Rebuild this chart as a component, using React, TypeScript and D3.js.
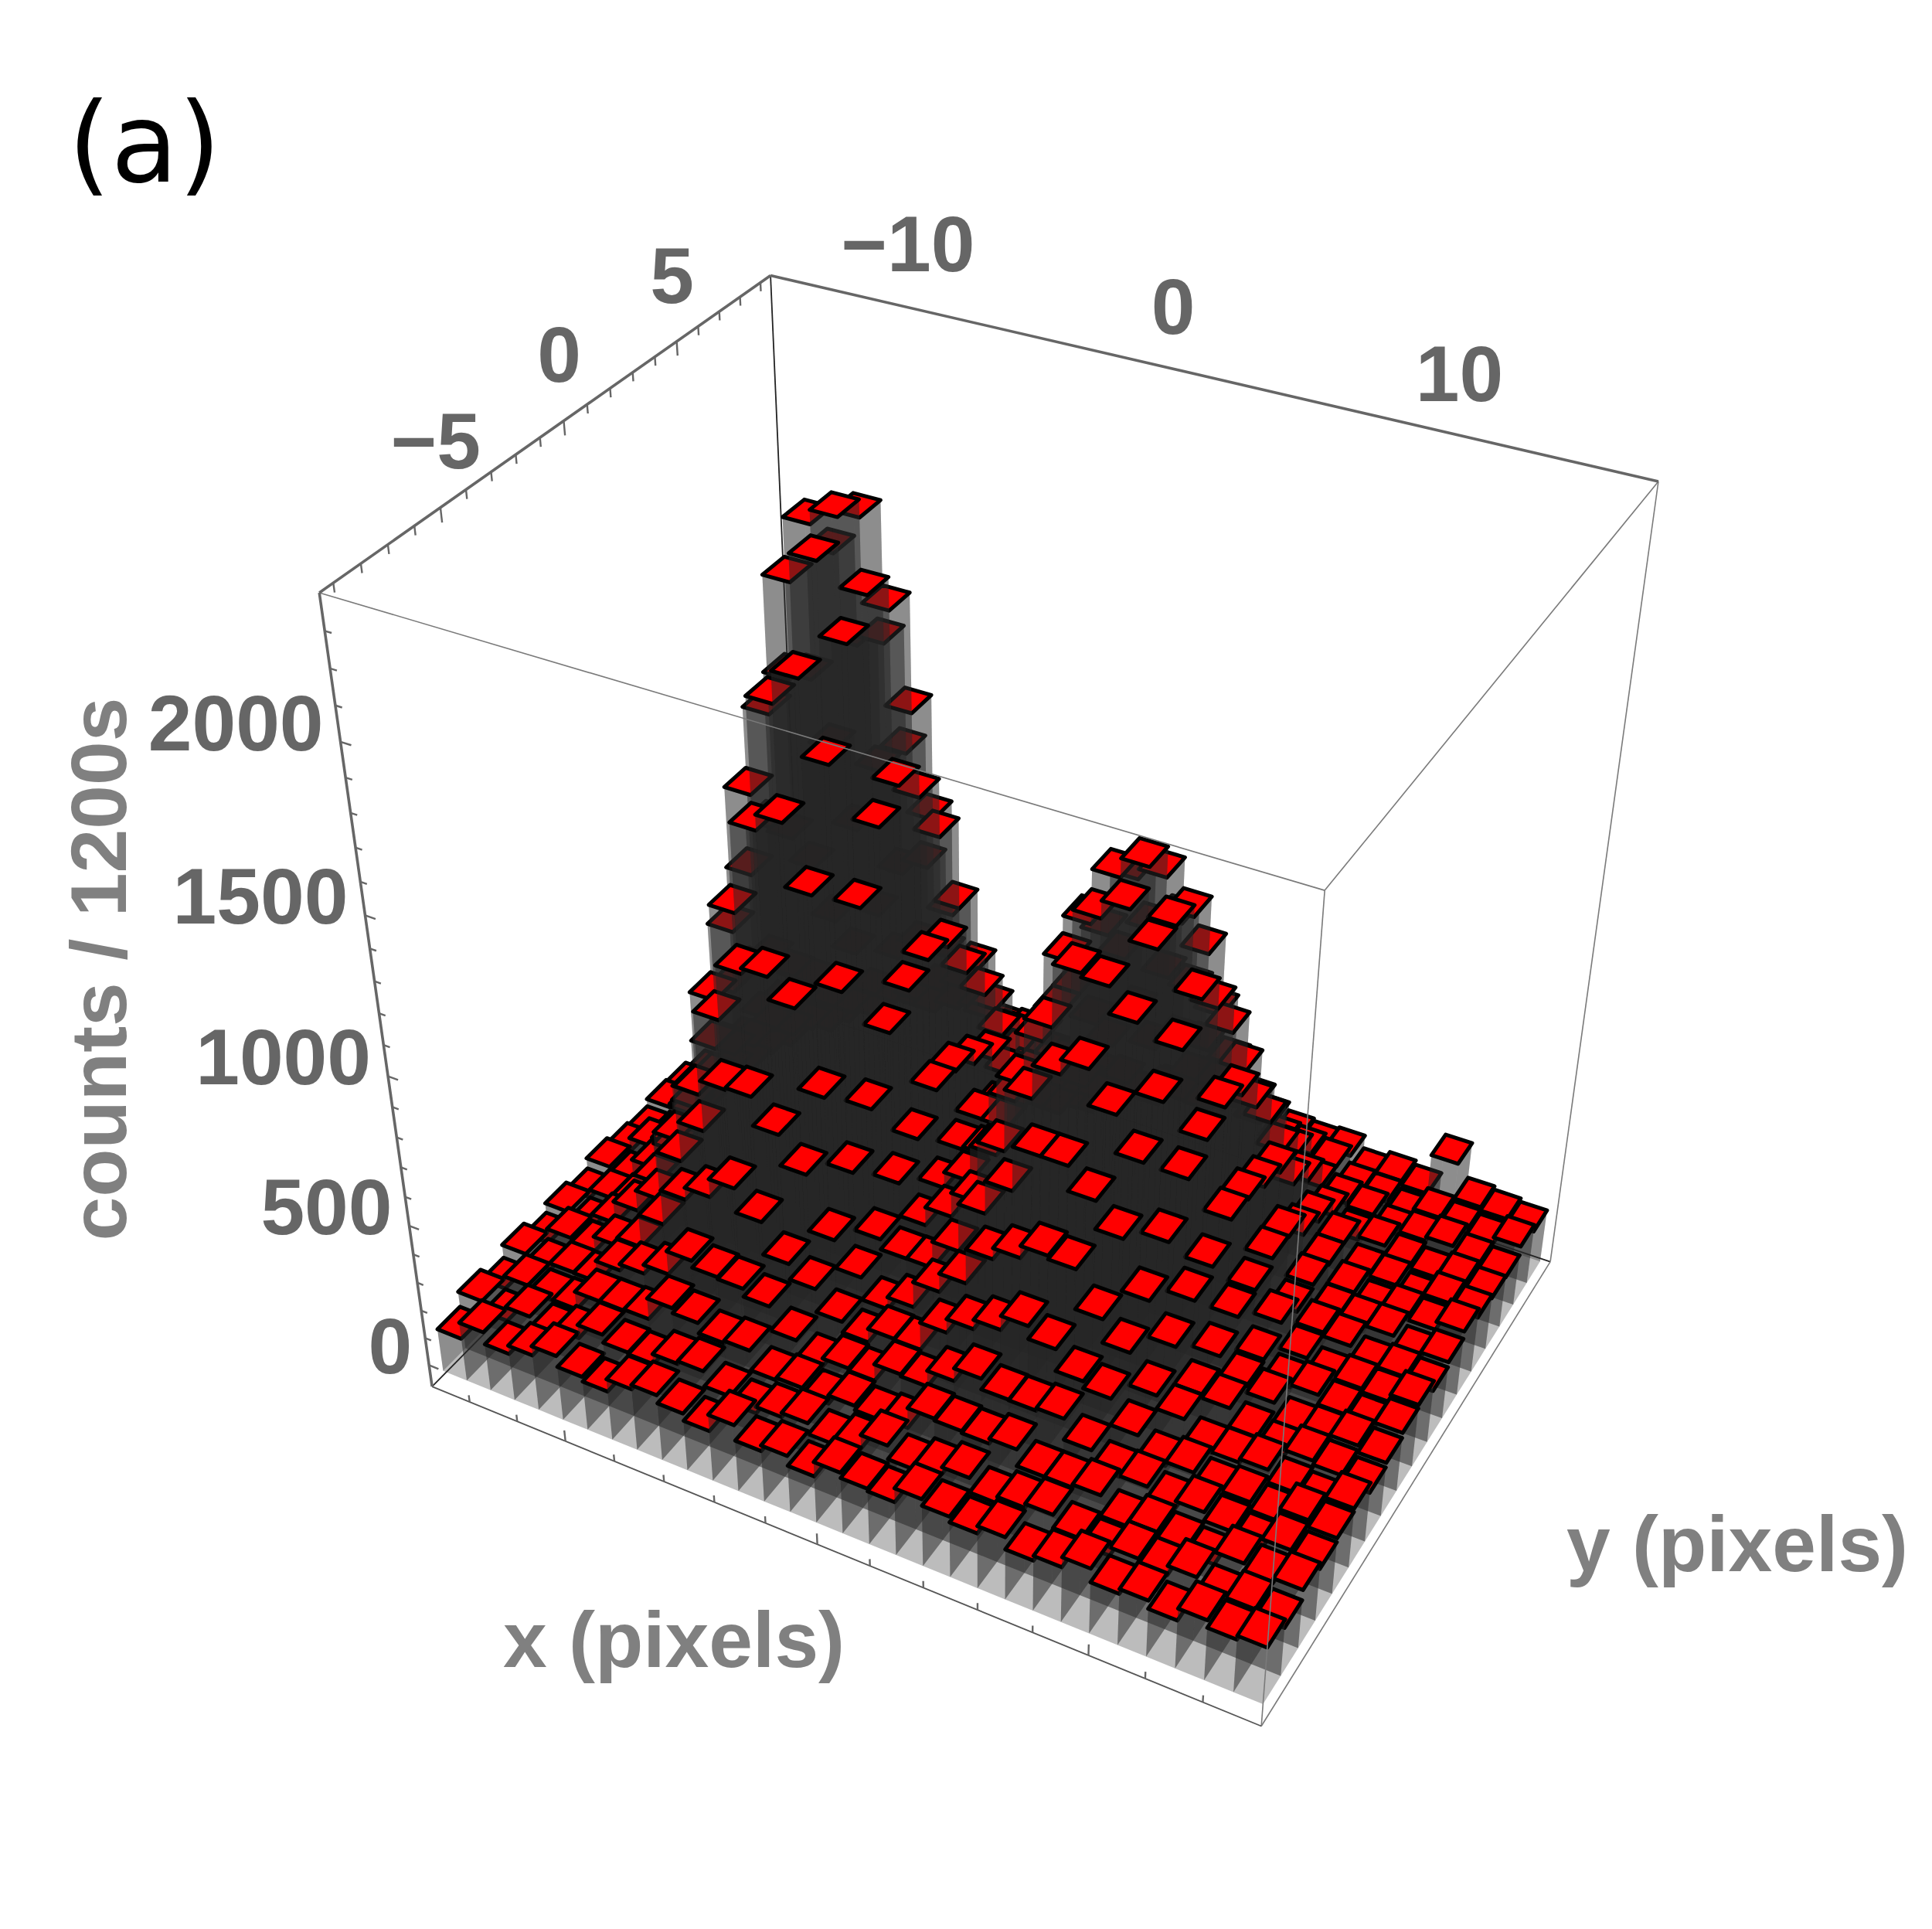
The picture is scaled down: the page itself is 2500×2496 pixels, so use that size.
import React, { useMemo } from 'react'
import * as d3 from 'd3'

// bin centres (pixels)
const xBins = [-14.5, -13.5, -12.5, -11.5, -10.5, -9.5, -8.5, -7.5, -6.5, -5.5, -4.5, -3.5, -2.5, -1.5, -0.5, 0.5, 1.5, 2.5, 3.5, 4.5, 5.5, 6.5, 7.5, 8.5, 9.5, 10.5, 11.5, 12.5, 13.5, 14.5, 15.5]
const yBins = [-9, -8, -7, -6, -5, -4, -3, -2, -1, 0, 1, 2, 3, 4, 5, 6, 7, 8]

// counts / 1200s, one row per y bin (front row first), one value per x bin
const counts: number[][] = [
    [153, 211, 168, 198, 231, 192, 175, 219, 234, 205, 179, 237, 182, 202, 167, 218, 199, 190, 239, 216, 196, 222, 179, 196, 231, 183, 200, 171, 213, 187, 201],
    [207, 170, 220, 186, 212, 259, 230, 224, 260, 270, 216, 192, 215, 230, 191, 214, 262, 214, 237, 261, 210, 233, 247, 201, 182, 211, 193, 226, 177, 195, 171],
    [172, 217, 197, 199, 262, 263, 267, 340, 322, 285, 294, 224, 233, 213, 242, 226, 236, 306, 299, 292, 309, 251, 251, 262, 190, 211, 190, 176, 219, 191, 207],
    [218, 195, 218, 216, 292, 314, 345, 426, 402, 395, 367, 282, 225, 253, 245, 303, 296, 351, 395, 358, 356, 365, 292, 237, 240, 202, 227, 197, 173, 211, 185],
    [181, 231, 216, 268, 296, 410, 528, 569, 630, 547, 435, 381, 300, 262, 309, 306, 400, 447, 479, 527, 483, 408, 384, 293, 223, 237, 200, 209, 181, 223, 199],
    [215, 192, 239, 317, 388, 554, 688, 856, 863, 767, 664, 472, 375, 297, 339, 426, 489, 605, 642, 683, 671, 537, 457, 345, 299, 219, 220, 233, 189, 175, 211],
    [192, 220, 234, 338, 520, 709, 986, 1163, 1181, 1109, 848, 627, 430, 395, 396, 487, 648, 756, 901, 901, 819, 726, 552, 429, 300, 287, 222, 194, 213, 199, 175],
    [229, 212, 286, 376, 609, 954, 1263, 1543, 1591, 1397, 1122, 768, 547, 434, 496, 578, 781, 983, 1090, 1137, 1022, 899, 670, 505, 348, 279, 256, 191, 197, 215, 191],
    [212, 260, 293, 459, 695, 1112, 1566, 1859, 1954, 1728, 1321, 950, 625, 488, 542, 663, 927, 1140, 1337, 1324, 1240, 1021, 802, 541, 402, 288, 225, 234, 201, 187, 209],
    [202, 213, 331, 483, 819, 1231, 1749, 2150, 2230, 2020, 1507, 1021, 719, 546, 556, 771, 998, 1276, 1438, 1492, 1398, 1115, 856, 623, 414, 334, 244, 200, 207, 195, 221],
    [228, 241, 303, 507, 814, 1322, 1797, 2260, 2300, 2105, 1574, 1054, 712, 579, 578, 776, 1016, 1330, 1498, 1556, 1405, 1206, 890, 614, 445, 291, 252, 239, 191, 199, 185],
    [222, 233, 340, 467, 790, 1225, 1742, 2130, 2250, 2010, 1479, 1030, 667, 535, 584, 731, 1017, 1230, 1431, 1462, 1368, 1110, 858, 581, 440, 306, 230, 226, 227, 181, 203],
    [198, 239, 289, 454, 674, 1068, 1473, 1812, 1840, 1655, 1296, 879, 615, 460, 507, 674, 848, 1089, 1208, 1257, 1188, 963, 746, 555, 370, 297, 232, 197, 215, 201, 229],
    [232, 202, 275, 371, 582, 826, 1157, 1370, 1451, 1266, 1003, 738, 489, 420, 412, 535, 706, 842, 990, 969, 923, 768, 622, 439, 339, 296, 215, 211, 179, 213, 197],
    [185, 236, 235, 324, 435, 649, 809, 976, 1023, 890, 733, 530, 416, 324, 361, 418, 506, 654, 702, 708, 686, 580, 447, 376, 285, 230, 241, 206, 191, 205, 185],
    [212, 204, 244, 250, 344, 439, 595, 661, 656, 615, 524, 385, 317, 304, 273, 338, 384, 428, 507, 505, 465, 442, 361, 279, 251, 242, 202, 213, 227, 195, 181],
    [188, 206, 237, 214, 268, 344, 380, 442, 477, 400, 360, 320, 254, 223, 253, 291, 288, 334, 330, 371, 341, 300, 292, 277, 218, 212, 185, 219, 203, 189, 213],
    [220, 187, 209, 243, 225, 268, 268, 308, 328, 289, 297, 247, 213, 230, 216, 210, 262, 261, 257, 302, 273, 244, 236, 242, 196, 213, 198, 338, 213, 201, 189],
]

const xTickLabels = [-10, 0, 10]
const yTickLabels = [-5, 0, 5]
const zTickLabels = [0, 500, 1000, 1500, 2000]

const W = 2500
const H = 2496
const xDom: [number, number] = [-15.6, 16]
const yDom: [number, number] = [-9.5, 9.5]
const zDom: [number, number] = [-80, 2400]

// where the 8 corners of the box land on the page (camera calibration)
const boxCorners: [number, number, number, number, number][] = [
    [xDom[0], yDom[0], zDom[1], 415, 766],
    [xDom[0], yDom[1], zDom[1], 995, 357],
    [xDom[1], yDom[1], zDom[1], 2150, 625],
    [xDom[1], yDom[0], zDom[1], 1710, 1150],
    [xDom[0], yDom[0], zDom[0], 559, 1796],
    [xDom[1], yDom[0], zDom[0], 1634, 2234],
    [xDom[1], yDom[1], zDom[0], 2004, 1632],
    [xDom[0], yDom[1], zDom[0], 1039, 1307],
]

function solveLinear(m: number[][], b: number[]): number[] {
    const n = b.length
    const a = m.map((row, i) => [...row, b[i]])
    for (let c = 0; c < n; c++) {
        let p = c
        for (let r = c + 1; r < n; r++) if (Math.abs(a[r][c]) > Math.abs(a[p][c])) p = r
        const tmp = a[c]
        a[c] = a[p]
        a[p] = tmp
        for (let r = 0; r < n; r++) {
            if (r === c) continue
            const f = a[r][c] / a[c][c]
            for (let k = c; k <= n; k++) a[r][k] -= f * a[c][k]
        }
    }
    return a.map((row, i) => row[n] / row[i])
}

const sx = d3.scaleLinear().domain(xDom).range([-1, 1])
const sy = d3.scaleLinear().domain(yDom).range([-19 / 31.6, 19 / 31.6])
const sz = d3.scaleLinear().domain(zDom).range([0, 1])

const FACE = '#262626'
const AXIS = '#666666'
const FONT = 'Liberation Sans, Arial, Helvetica, sans-serif'

const App: React.FC = () => {
    const scene = useMemo(() => {
        // fit a perspective camera (DLT) to the box corners
        const rows: number[][] = []
        const rhs: number[] = []
        boxCorners.forEach(([x, y, z, u, v]) => {
            const X = sx(x), Y = sy(y), Z = sz(z), U = u / 1000, V = v / 1000
            rows.push([X, Y, Z, 1, 0, 0, 0, 0, -U * X, -U * Y, -U * Z])
            rhs.push(U)
            rows.push([0, 0, 0, 0, X, Y, Z, 1, -V * X, -V * Y, -V * Z])
            rhs.push(V)
        })
        const N = d3.range(11).map((i) => d3.range(11).map((j) => d3.sum(rows, (r) => r[i] * r[j])))
        const R = d3.range(11).map((i) => d3.sum(rows, (r, k) => r[i] * rhs[k]))
        const p = solveLinear(N, R)

        const proj = (x: number, y: number, z: number): [number, number] => {
            const X = sx(x), Y = sy(y), Z = sz(z)
            const w = p[8] * X + p[9] * Y + p[10] * Z + 1
            return [
                (1000 * (p[0] * X + p[1] * Y + p[2] * Z + p[3])) / w,
                (1000 * (p[4] * X + p[5] * Y + p[6] * Z + p[7])) / w,
            ]
        }
        const cam = solveLinear(
            [
                [p[0], p[1], p[2]],
                [p[4], p[5], p[6]],
                [p[8], p[9], p[10]],
            ],
            [-p[3], -p[7], -1]
        )

        const line = d3.line()
        const poly = (pts: [number, number, number][]) => line(pts.map((q) => proj(q[0], q[1], q[2]))) + 'Z'

        // bars, far ones first
        const bars = counts.flatMap((row, j) =>
            row.map((h, i) => {
                const x0 = xBins[i] - 0.5, x1 = xBins[i] + 0.5
                const y0 = yBins[j] - 0.5, y1 = yBins[j] + 0.5
                const dist = Math.hypot(sx(xBins[i]) - cam[0], sy(yBins[j]) - cam[1])
                return { x0, x1, y0, y1, h, dist, key: `${i}-${j}` }
            })
        )
        bars.sort((a, b) => b.dist - a.dist)

        const barShapes = bars.map((b) => {
            const { x0, x1, y0, y1, h } = b
            const sides = [
                poly([[x0, y1, 0], [x1, y1, 0], [x1, y1, h], [x0, y1, h]]),
                poly([[x0, y0, 0], [x0, y1, 0], [x0, y1, h], [x0, y0, h]]),
                poly([[x1, y0, 0], [x1, y1, 0], [x1, y1, h], [x1, y0, h]]),
                poly([[x0, y0, 0], [x1, y0, 0], [x1, y0, h], [x0, y0, h]]),
            ]
            const top = poly([[x0, y0, h], [x1, y0, h], [x1, y1, h], [x0, y1, h]])
            return { key: b.key, sides, top }
        })

        const [X0, X1] = xDom, [Y0, Y1] = yDom, [Z0, Z1] = zDom
        const seg = (a: [number, number, number], b: [number, number, number]) => {
            const pa = proj(...a), pb = proj(...b)
            return { x1: pa[0], y1: pa[1], x2: pb[0], y2: pb[1] }
        }
        const backEdges = [
            seg([X0, Y1, Z1], [X0, Y1, Z0]),
            seg([X0, Y0, Z0], [X0, Y1, Z0]),
            seg([X0, Y1, Z0], [X1, Y1, Z0]),
        ]
        const thinEdges = [
            seg([X0, Y0, Z1], [X1, Y0, Z1]),
            seg([X1, Y0, Z1], [X1, Y1, Z1]),
            seg([X1, Y1, Z1], [X1, Y1, Z0]),
            seg([X1, Y0, Z1], [X1, Y0, Z0]),
            seg([X1, Y0, Z0], [X1, Y1, Z0]),
        ]
        const axisEdges = [
            seg([X0, Y0, Z1], [X0, Y1, Z1]),
            seg([X0, Y1, Z1], [X1, Y1, Z1]),
            seg([X0, Y0, Z1], [X0, Y0, Z0]),
        ]
        const bottomEdge = seg([X0, Y0, Z0], [X1, Y0, Z0])

        const ticks = [
            ...d3.range(-9, 10, 1).map((y) =>
                seg([X0, y, Z1], [X0, y, Z1 - (yTickLabels.includes(y) ? 40 : 25)])
            ),
            ...d3.range(-14, 16, 2).map((x) =>
                seg([x, Y0, Z0], [x, Y0, Z0 + (xTickLabels.includes(x) ? 40 : 25)])
            ),
            ...d3.range(0, 2400, 100).map((z) =>
                seg([X0, Y0, z], [X0 + (zTickLabels.includes(z) ? 0.4 : 0.25), Y0, z])
            ),
        ]

        const xLabels = xTickLabels.map((v) => {
            const [u, w] = proj(v, Y1, Z1)
            return { v, x: u - 12 - 0.55 * v, y: w - 85 }
        })
        const yLabels = yTickLabels.map((v) => {
            const [u, w] = proj(X0, v, Z1)
            return { v, x: u - 6, y: w - 87 }
        })
        const zLabels = zTickLabels.map((v) => {
            const [u, w] = proj(X0, Y0, v)
            return { v, x: u - 22, y: w - 26 }
        })

        return { barShapes, backEdges, thinEdges, axisEdges, bottomEdge, ticks, xLabels, yLabels, zLabels }
    }, [])

    const fmt = (v: number) => (v < 0 ? `\u2212${Math.abs(v)}` : `${v}`)

    return (
        <svg width={W} height={H} style={{ position: 'absolute', left: 0, top: 0, background: '#fff' }}>
            <rect width={W} height={H} fill="#fff" />

            <text x={88} y={235} fontFamily="DejaVu Sans, sans-serif" fontSize={142} fill="#000">
                (a)
            </text>

            {/* hidden box edges stay visible through the translucent sides */}
            {scene.backEdges.map((e, i) => (
                <line key={`be${i}`} {...e} stroke="#222" strokeWidth={1.8} />
            ))}

            {scene.barShapes.map((b) => (
                <g key={b.key}>
                    {b.sides.map((d, k) => (
                        <path key={k} d={d} fill={FACE} fillOpacity={0.31} />
                    ))}
                    <path d={b.top} fill="#ff0000" stroke="#000" strokeWidth={5} strokeLinejoin="round" />
                </g>
            ))}

            {scene.thinEdges.map((e, i) => (
                <line key={`te${i}`} {...e} stroke="#7a7a7a" strokeWidth={1.6} />
            ))}
            <line {...scene.bottomEdge} stroke="#555" strokeWidth={1.8} />
            {scene.axisEdges.map((e, i) => (
                <line key={`ae${i}`} {...e} stroke={AXIS} strokeWidth={3.6} />
            ))}
            {scene.ticks.map((e, i) => (
                <line key={`tk${i}`} {...e} stroke={AXIS} strokeWidth={2.4} />
            ))}

            <g fontFamily={FONT} fontWeight="bold" fontSize={102} fill={AXIS}>
                {scene.xLabels.map((l) => (
                    <text key={`xl${l.v}`} x={l.x} y={l.y} textAnchor="middle" dy="0.36em">
                        {fmt(l.v)}
                    </text>
                ))}
                {scene.yLabels.map((l) => (
                    <text key={`yl${l.v}`} x={l.x} y={l.y} textAnchor="middle" dy="0.36em">
                        {fmt(l.v)}
                    </text>
                ))}
                {scene.zLabels.map((l) => (
                    <text key={`zl${l.v}`} x={l.x} y={l.y} textAnchor="end" dy="0.36em">
                        {fmt(l.v)}
                    </text>
                ))}
            </g>

            <g fontFamily={FONT} fontWeight="bold" fontSize={102} fill="#808080">
                <text transform="translate(163,1254) rotate(-90)" textAnchor="middle">
                    counts / 1200s
                </text>
                <text x={872} y={2157} textAnchor="middle">
                    x (pixels)
                </text>
                <text x={2248} y={2033} textAnchor="middle">
                    y (pixels)
                </text>
            </g>
        </svg>
    )
}

export default App
